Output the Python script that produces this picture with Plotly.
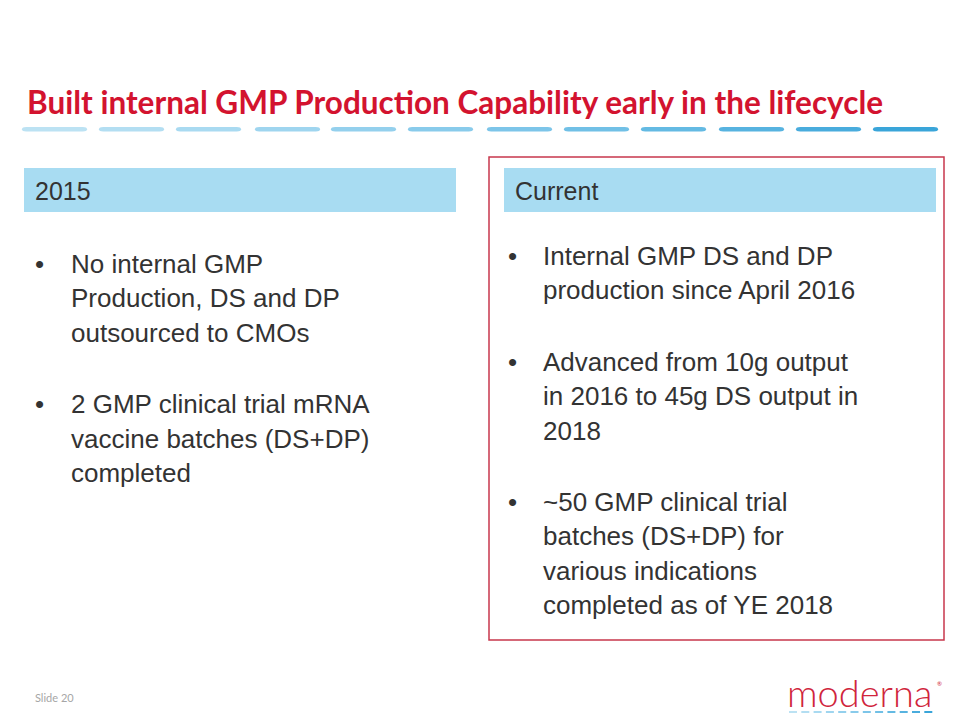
import plotly.graph_objects as go

# ---- content ----
title_text = "Built internal GMP Production Capability early in the lifecycle"
left_header = "2015"
right_header = "Current"
left_bullets = [
    ["No internal GMP", "Production, DS and DP", "outsourced to CMOs"],
    ["2 GMP clinical trial mRNA", "vaccine batches (DS+DP)", "completed"],
]
right_bullets = [
    ["Internal GMP DS and DP", "production since April 2016"],
    ["Advanced from 10g output", "in 2016 to 45g DS output in", "2018"],
    ["~50 GMP clinical trial", "batches (DS+DP) for", "various indications", "completed as of YE 2018"],
]
slide_label = "Slide 20"
logo_text = "moderna"
dash_starts = [24, 101, 178, 257, 333, 410, 489, 566, 643, 721, 798, 875]
dash_colors = ["#BCE2F3", "#B3DEF2", "#A9DAF1", "#9FD5EF", "#94D0ED", "#89CBEB",
               "#7DC5E9", "#71C0E6", "#64BAE3", "#57B3E0", "#49ACDD", "#3AA5D9"]

W, H = 960, 720
OFF = 8  # page body margin compensation
RED = "#D3132F"
TXT = "#333333"
BODY_FONT = "Liberation Sans"

fig = go.Figure()
shapes = []
ann = []

# title
ann.append(dict(x=25, y=102, text="<b>" + title_text + "</b>", xanchor="left", yanchor="middle",
                font=dict(family="Lato", size=31.5, color=RED)))

# dashes (rounded pills)
for x0, c in zip(dash_starts, dash_colors):
    x1 = x0 + 61
    y0, y1 = 127, 131.5
    r = 2.25
    path = (f"M {x0+r},{y0} L {x1-r},{y0} Q {x1+r*0.9},{y0} {x1+r*0.9},{(y0+y1)/2} "
            f"Q {x1+r*0.9},{y1} {x1-r},{y1} L {x0+r},{y1} Q {x0-r*0.9},{y1} {x0-r*0.9},{(y0+y1)/2} "
            f"Q {x0-r*0.9},{y0} {x0+r},{y0} Z")
    shapes.append(dict(type="path", path=path, fillcolor=c, line=dict(width=0), layer="above"))

# red frame
shapes.append(dict(type="rect", x0=489, x1=944, y0=157, y1=640,
                   line=dict(color="#C8374C", width=1.5), fillcolor="rgba(0,0,0,0)"))
# header boxes
for x0 in (24, 504):
    shapes.append(dict(type="rect", x0=x0, x1=x0 + 432, y0=168, y1=212,
                       fillcolor="#A8DCF2", line=dict(width=0)))
ann.append(dict(x=33, y=191, text=left_header, xanchor="left", yanchor="middle",
                font=dict(family=BODY_FONT, size=25, color=TXT)))
ann.append(dict(x=513, y=191, text=right_header, xanchor="left", yanchor="middle",
                font=dict(family=BODY_FONT, size=25, color=TXT)))

LINE = 34.3

def add_bullets(groups, bx, tx, y_start):
    y = y_start
    for g in groups:
        ann.append(dict(x=bx, y=y, text="•", xanchor="left", yanchor="middle",
                        font=dict(family=BODY_FONT, size=26, color=TXT)))
        for line in g:
            ann.append(dict(x=tx, y=y, text=line, xanchor="left", yanchor="middle",
                            font=dict(family=BODY_FONT, size=26, color=TXT)))
            y += LINE
        y += LINE + 3

add_bullets(left_bullets, 33, 69, 264)
add_bullets(right_bullets, 506, 541, 256)

# footer
ann.append(dict(x=33, y=697, text=slide_label, xanchor="left", yanchor="middle",
                font=dict(family="Lato", size=11, color="#A6A6A6")))
ann.append(dict(x=785, y=692, text=logo_text, xanchor="left", yanchor="middle",
                font=dict(family="Lato", size=38, color="#D0253C", weight=300)))
ann.append(dict(x=935, y=683, text="®", xanchor="left", yanchor="middle",
                font=dict(family="Lato", size=6, color="#D0253C")))
for i in range(12):
    x0 = 789 + i * 12.3
    shapes.append(dict(type="line", x0=x0, x1=x0 + 8, y0=712, y1=712,
                       line=dict(color=dash_colors[i], width=2)))

for a in ann:
    a.update(xref="x", yref="y", showarrow=False)

fig.update_layout(
    width=W - OFF, height=H - OFF, margin=dict(l=0, r=0, t=0, b=0),
    paper_bgcolor="white", plot_bgcolor="white",
    xaxis=dict(range=[OFF, W], visible=False, fixedrange=True),
    yaxis=dict(range=[H, OFF], visible=False, fixedrange=True),
    shapes=shapes, annotations=ann, showlegend=False,
)
fig.write_html("out.html")
